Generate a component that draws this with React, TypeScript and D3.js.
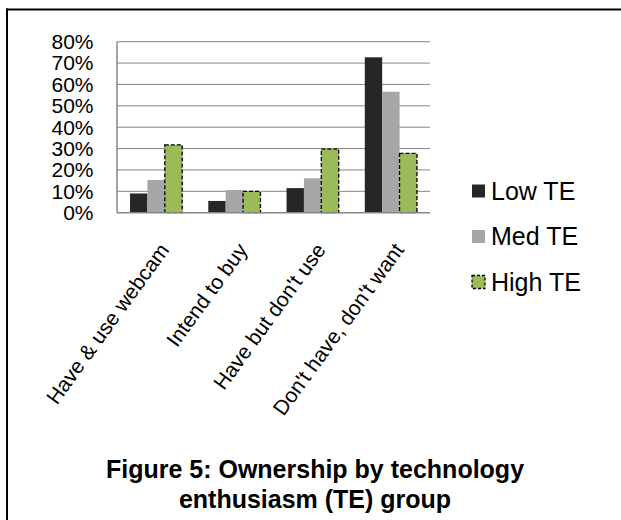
import React from "react";
import * as d3 from "d3";

const categories = ["Have & use webcam", "Intend to buy", "Have but don't use", "Don't have, don't want"];
const seriesNames = ["Low TE", "Med TE", "High TE"];
const lowTE = [0.09, 0.055, 0.115, 0.727];
const medTE = [0.153, 0.106, 0.161, 0.566];
const highTE = [0.317, 0.1, 0.297, 0.278];
const yTicks = [0, 0.1, 0.2, 0.3, 0.4, 0.5, 0.6, 0.7, 0.8];
const titleLines = ["Figure 5: Ownership by technology", "enthusiasm (TE) group"];

const colors = ["#262626", "#A6A6A6", "#9BBB59"];
const FONT = "'Liberation Sans', Arial, sans-serif";

export default function App() {
  const W = 621, H = 520;
  const left = 117, right = 430, top = 41.7, bottom = 212.7;
  const x0 = d3.scaleBand<string>().domain(categories).range([left, right]).paddingInner(1 / 3).paddingOuter(1 / 6);
  const x1 = d3.scaleBand<string>().domain(seriesNames).range([0, x0.bandwidth()]);
  const y = d3.scaleLinear().domain([0, 0.8]).range([bottom, top]);
  const series = [lowTE, medTE, highTE];
  const fmt = d3.format(".0%");

  return (
    <svg width={W} height={H} style={{ position: "absolute", left: 0, top: 0, background: "#fff" }} fontFamily={FONT}>
      <rect x={0} y={0} width={W} height={H} fill="#fff" />
      <line x1={7} x2={7} y1={8.5} y2={H} stroke="#000" strokeWidth={2} />
      <line x1={6} x2={W} y1={9.5} y2={9.5} stroke="#000" strokeWidth={2} />
      {yTicks.map((t) => (
        <g key={t}>
          {t > 0 && <line x1={left} x2={right} y1={y(t)} y2={y(t)} stroke="#868686" strokeWidth={1} />}
          <text x={93.5} y={y(t)} dy="0.35em" textAnchor="end" fontSize={21} fill="#000">{fmt(t)}</text>
        </g>
      ))}
      {categories.map((c, ci) => (
        <g key={c}>
          {series.map((s, si) => (
            <rect
              key={si}
              x={(x0(c) as number) + (x1(seriesNames[si]) as number)}
              y={y(s[ci])}
              width={x1.bandwidth()}
              height={bottom - y(s[ci])}
              fill={colors[si]}
              stroke={si === 2 ? "#000" : "none"}
              strokeWidth={si === 2 ? 1.3 : 0}
              strokeDasharray={si === 2 ? "4,2" : undefined}
            />
          ))}
        </g>
      ))}
      <line x1={left} x2={left} y1={top} y2={bottom} stroke="#868686" strokeWidth={1.5} />
      <line x1={left} x2={right} y1={bottom} y2={bottom} stroke="#868686" strokeWidth={1.5} />
      {categories.map((c) => {
        const cx = (x0(c) as number) + x0.bandwidth() / 2 + 14;
        const cy = 250;
        return (
          <text key={c} x={cx} y={cy} textAnchor="end" fontSize={21} fill="#000" transform={`rotate(-54 ${cx} ${cy})`}>
            {c}
          </text>
        );
      })}
      {seriesNames.map((n, i) => {
        const ly = 191 + i * 45.5;
        return (
          <g key={n}>
            <rect
              x={472}
              y={ly - 6.5}
              width={13}
              height={13}
              fill={colors[i]}
              stroke={i === 2 ? "#000" : "none"}
              strokeWidth={i === 2 ? 1.3 : 0}
              strokeDasharray={i === 2 ? "3,2" : undefined}
            />
            <text x={491} y={ly} dy="0.35em" fontSize={25} fill="#000">{n}</text>
          </g>
        );
      })}
      {titleLines.map((t, i) => (
        <text key={i} x={315} y={478 + i * 30} textAnchor="middle" fontSize={25} fontWeight="bold" fill="#000">
          {t}
        </text>
      ))}
    </svg>
  );
}
